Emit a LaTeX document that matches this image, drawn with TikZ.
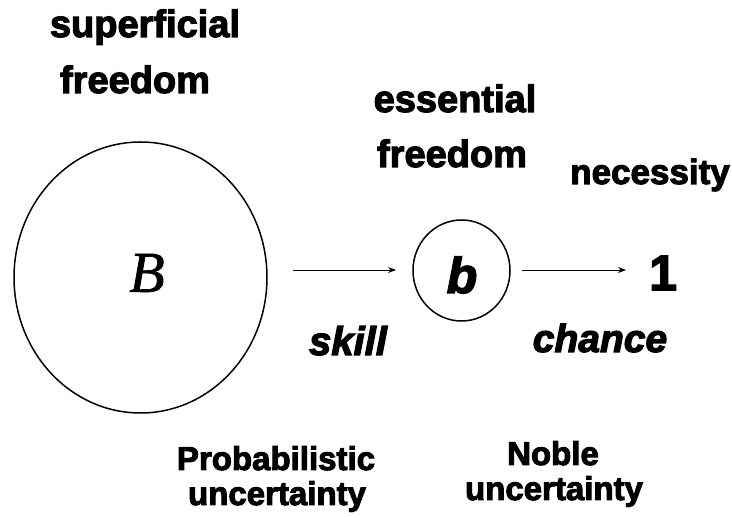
\documentclass[tikz,border=0pt]{standalone}
\usepackage{fontspec}
\setmainfont{Liberation Sans}[BoldFeatures={FakeBold=3}, BoldItalicFeatures={FakeBold=3}]
\newfontfamily\serifit{Liberation Serif}[ItalicFeatures={FakeBold=1}]
\usetikzlibrary{arrows.meta,shapes.geometric}
\tikzset{
  lbl/.style={font=\fontsize{38}{56}\selectfont\bfseries, align=center, inner sep=0pt, anchor=base},
  lblsmall/.style={font=\fontsize{33}{35}\selectfont\bfseries, align=center, inner sep=0pt, anchor=base},
  conn/.style={-{Stealth[length=8pt,width=6pt]}, line width=0.9pt},
  ring/.style={draw, line width=1.5pt, ellipse},
}
\begin{document}
\begin{tikzpicture}[x=1pt,y=-1pt]
\useasboundingbox (0,0) rectangle (732,518);
\fill[white] (0,0) rectangle (732,518);
% circles
\node[ring, minimum width=253pt, minimum height=271pt, inner sep=0pt] (B) at (140.5,277.5) {};
\node[ring, minimum width=97pt, minimum height=101pt, inner sep=0pt] (b) at (461.5,270.5) {};
\node[font=\fontsize{58}{58}\selectfont\serifit\itshape, inner sep=0pt] (Blbl) at (147,273) {B};
\node[font=\fontsize{50}{50}\selectfont\bfseries\itshape, inner sep=0pt] (blbl) at (462,275) {b};
\node[font=\fontsize{50}{50}\selectfont\bfseries, inner sep=0pt] (one) at (663,273) {1};
\coordinate (a1s) at (293,270);
\coordinate (a1e) at (396,270);
\coordinate (a2s) at (522,270);
\coordinate (a2e) at (626,270);
\draw[conn] (a1s) -- (a1e);
\draw[conn] (a2s) -- (a2e);
% labels
\node[lbl] (sup) at (145,37) {superficial};
\node[lbl] (supf) at (135,93) {freedom};
\node[lbl] (ess) at (455,112) {essential};
\node[lbl] (essf) at (452,167) {freedom};
\node[lbl, font=\fontsize{35}{35}\selectfont\bfseries] (nec) at (650,184) {necessity};
\node[lbl, font=\fontsize{40}{40}\selectfont\bfseries\itshape] (skill) at (348,355) {skill};
\node[lbl, font=\fontsize{39}{39}\selectfont\bfseries\itshape] (chance) at (600,352) {chance};
\node[lblsmall] (prob) at (276,470) {Probabilistic};
\node[lblsmall] (probu) at (277,505) {uncertainty};
\node[lblsmall] (nob) at (553,465) {Noble};
\node[lblsmall] (nobu) at (554,500) {uncertainty};
\end{tikzpicture}
\end{document}
